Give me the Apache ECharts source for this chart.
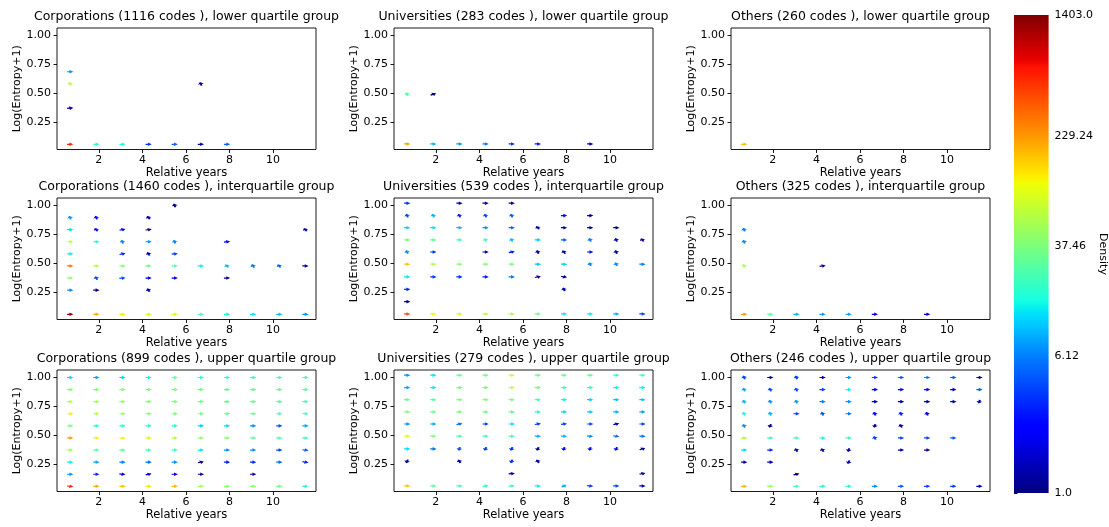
<!DOCTYPE html>
<html><head><meta charset="utf-8">
<script src="https://cdn.jsdelivr.net/npm/echarts@6/dist/echarts.min.js"></script>
<style>html,body{margin:0;padding:0;background:#fff}#c{width:1109px;height:527px}</style>
</head><body><div id="c"></div>
<script>
// ---------------- DATA ----------------
const X_YEARS = [0.68, 1.88, 3.08, 4.28, 5.48, 6.68, 7.88, 9.08, 10.28, 11.48];
const Y_LEVELS_CORP = [0.055, 0.16, 0.265, 0.37, 0.475, 0.58, 0.685, 0.79, 0.895, 1.0];
const Y_LEVELS_UNIV = [0.058, 0.165, 0.272, 0.38, 0.49, 0.596, 0.701, 0.807, 0.912, 1.02];
const Y_LEVELS_OTH = [0.055, 0.16, 0.265, 0.37, 0.475, 0.58, 0.685, 0.79, 0.895, 1.0];
const X_TICKS = [2, 4, 6, 8, 10];
const Y_TICKS = [0.25, 0.5, 0.75, 1.0];
const CB_TICK_LABELS = ['1.0', '6.12', '37.46', '229.24', '1403.0'];
const DENSITY_MIN = 1.0, DENSITY_MAX = 1403.0;
const TITLES = [
  'Corporations (1116 codes ), lower quartile group',
  'Universities (283 codes ), lower quartile group',
  'Others (260 codes ), lower quartile group',
  'Corporations (1460 codes ), interquartile group',
  'Universities (539 codes ), interquartile group',
  'Others (325 codes ), interquartile group',
  'Corporations (899 codes ), upper quartile group',
  'Universities (279 codes ), upper quartile group',
  'Others (246 codes ), upper quartile group'
];
const _ = null;
const E = [_, _, _, _, _, _, _, _, _, _];
// density matrices: rows listed from top level (index 9) down to bottom level (index 0)
const CORP_LOW = [
  E, E, E,
  [7, _, _, _, _, _, _, _, _, _],
  [65, _, _, _, _, 1.1, _, _, _, _],
  E,
  [1.2, _, _, _, _, _, _, _, _, _],
  E, E,
  [550, 18, 16, 3.7, 5, 1.3, 5, _, _, _]
];
// arrow directions (degrees) as [column, level, angle]; unlisted arrows point along +x
const CORP_LOW_ANG = [[0,5,105],[5,5,105],[0,3,10]];
const UNIV_LOW = [
  E, E, E, E, E,
  [26, 1.1, _, _, _, _, _, _, _, _],
  E, E, E,
  [215, 8.8, 7.5, 6, 3.5, 3, _, 1.4, _, _]
];
const UNIV_LOW_ANG = [[0,4,105],[1,4,30]];
const OTH_LOW = [
  E, E, E, E, E, E, E, E, E,
  [160, _, _, _, _, _, _, _, _, _]
];
const OTH_LOW_ANG = [];
const CORP_MID = [
  [_, _, _, _, 1.1, _, _, _, _, _],
  [7, 2.5, _, 1.2, _, _, _, _, _, _],
  [12, 2, 2.5, 1.1, _, _, _, _, _, 1.3],
  [65, 17, 6.5, 7, 6.5, _, 2.2, _, _, _],
  [14, _, 3, 1.2, 3.8, _, _, _, _, _],
  [285, 60, 40, 33, 27, 14, 9, 5.5, 4.5, 1.2],
  [45, 4, 4.5, 1.8, 2.5, _, 1.1, _, _, _],
  [7, 1.2, _, 1.3, _, _, _, _, _, _],
  E,
  [1200, 200, 120, 75, 75, 25, 15, 13, 10, 7]
];
const CORP_MID_ANG = [[4,9,105],[0,8,105],[1,8,105],[3,8,115],[1,7,115],[2,7,20],[3,7,10],[9,7,115],[2,6,105],[4,6,105],[6,6,10],[2,5,20],[3,5,110],[4,5,10],[6,4,115],[7,4,110],[8,4,115],[1,3,110],[2,3,10],[3,2,110]];
const UNIV_MID = [
  [3.5, _, 1.2, 1.2, 1.2, _, _, _, _, _],
  [4, 8.5, 3, 4, 4.5, _, 2.5, 1.1, _, _],
  [11, 12, 9, 7, 5, 1.3, 1.2, 1.1, 1.1, _],
  [38, 28, 24, 22, 10, 11, 5, 6, 1.3, 1.3],
  [7, 3.5, _, 1.3, 3, 1.2, 1.2, 2.5, 1.3, _],
  [160, 55, 42, 38, 38, 10, 11, 6.5, 6.5, 6],
  [13, 3.8, 3.5, 3, 6, 1.2, 1.1, _, _, _],
  [3.3, _, _, _, _, _, 1.2, _, _, _],
  [1.2, _, _, _, _, _, _, _, _, _],
  [400, 110, 85, 60, 60, 33, 13, 14, 9, 4]
];
const UNIV_MID_ANG = [[0,8,105],[1,8,105],[2,8,105],[3,8,105],[4,8,105],[5,7,115],[3,6,105],[4,6,105],[7,6,105],[8,6,105],[9,6,115],[0,5,105],[4,5,20],[5,5,105],[6,5,115],[8,5,105],[7,4,105],[8,4,105],[5,3,20],[6,3,-20],[6,2,105]];
const OTH_MID = [
  E, E,
  [6, _, _, _, _, _, _, _, _, _],
  [6.5, _, _, _, _, _, _, _, _, _],
  E,
  [60, _, _, 1.2, _, _, _, _, _, _],
  E, E, E,
  [220, 30, 9, 7.5, 8.5, 1.8, _, 1.5, _, _]
];
const OTH_MID_ANG = [[0,7,105],[0,6,105],[0,4,105],[3,4,15]];
const CORP_UP = [
  [11, 7.5, 11, 14, 33, 17, 19, 19, 22, 22],
  [42, 38, 38, 38, 38, 34, 30, 30, 30, 27],
  [65, 52, 47, 42, 42, 34, 30, 30, 27, 23],
  [115, 65, 52, 42, 38, 34, 30, 30, 23, 22],
  [38, 17, 17, 17, 16, 11, 12, 7, 4.5, 8],
  [220, 115, 105, 75, 65, 47, 42, 30, 27, 20],
  [52, 27, 27, 23, 23, 13, 7, 7, 4, 4.5],
  [14, 8.5, 6, 5.5, 7, 1.2, 3, 3.3, 5.5, 3],
  [7, 3.3, 1.8, 2, 2.2, 1.2, _, 1.3, _, _],
  [550, 200, 165, 125, 180, 52, 42, 42, 34, 17]
];
const CORP_UP_ANG = [[5,2,20],[9,2,-15],[2,1,-10],[3,1,20],[9,3,-10],[0,0,-10]];
const UNIV_UP = [
  [7, 12, 30, 33, 75, 33, 33, 30, 20, 23],
  [8, 13, 38, 38, 75, 34, 23, 20, 14, 14],
  [30, 27, 38, 42, 38, 23, 14, 11, 10, 10],
  [38, 34, 38, 34, 27, 17, 12, 11, 9, 8],
  [7, 8, 5.5, 4, 12, 3.8, 4, 4, 1.3, 4],
  [85, 38, 27, 24, 24, 8.5, 9, 7, 5.5, 5.5],
  [12, 5.5, 4, 3.5, 3.3, 1.1, 2, 2.2, 2, 1.2],
  [1.2, _, 1.2, _, 3.3, 1.2, _, _, _, _],
  [_, _, _, _, 1.2, _, _, _, _, 1.2],
  [160, 27, 24, 20, 20, 14, 8.5, 4, 4, 1.4]
];
const UNIV_UP_ANG = [[2,5,20],[5,5,15],[6,5,10],[8,5,20],[7,4,-10],[8,4,-15],[2,3,-100],[3,3,-105],[4,3,-105],[5,3,-105],[6,3,-100],[7,3,-100],[8,3,-105],[9,3,30],[0,2,-105],[2,2,110],[4,2,-105],[5,2,110],[4,1,10],[9,1,20],[3,0,15],[4,0,15],[6,0,40],[7,0,-10]];
const OTH_UP = [
  [4, 1.2, 3.8, 1.3, 7, 3.8, 4.5, 6, 4.5, 1.4],
  [8, 4, 4, 4, 14, 2, 2.5, 2.5, 1.4, 5],
  [9, 7, 7.5, 6, 7, 1.4, 1.2, 1.1, 1.3, 1.3],
  [17, 9, 4, 4.5, 5.5, 2.5, 3, 1.8, _, _],
  [6.5, 1.2, _, _, _, 1.2, 1.2, _, _, _],
  [60, 20, 23, 17, 20, 4, 4, 4, 4.5, _],
  [12, 3.3, 1.2, 1.2, 1.2, _, 1.2, 1.2, _, _],
  [1.5, 1.3, _, _, 1.2, _, _, _, _, _],
  [_, _, 1.1, _, _, _, _, _, _, _],
  [180, 47, 23, 17, 17, 7, 4.5, 4, 3.8, 1.4]
];
const OTH_UP_ANG = [[0,9,105],[2,9,105],[0,8,105],[1,8,105],[2,8,105],[0,7,105],[1,7,105],[2,7,105],[9,7,-100],[0,6,105],[1,6,105],[3,6,105],[5,6,105],[6,6,105],[7,6,105],[0,5,105],[1,5,-105],[5,5,-100],[6,5,110],[0,4,20],[5,4,105],[2,3,110],[3,3,110],[4,3,-100],[4,2,-105],[2,1,20]];

const PANELS = [
  [CORP_LOW, CORP_LOW_ANG, Y_LEVELS_CORP], [UNIV_LOW, UNIV_LOW_ANG, Y_LEVELS_UNIV], [OTH_LOW, OTH_LOW_ANG, Y_LEVELS_OTH],
  [CORP_MID, CORP_MID_ANG, Y_LEVELS_CORP], [UNIV_MID, UNIV_MID_ANG, Y_LEVELS_UNIV], [OTH_MID, OTH_MID_ANG, Y_LEVELS_OTH],
  [CORP_UP, CORP_UP_ANG, Y_LEVELS_CORP], [UNIV_UP, UNIV_UP_ANG, Y_LEVELS_UNIV], [OTH_UP, OTH_UP_ANG, Y_LEVELS_OTH]
];

// ---------------- LAYOUT / STYLE ----------------
const COL_LEFT = [57, 394, 731];
const ROW_TOP = [28, 198, 370];
const GW = 259, GH = 121.5;
const CB = {left: 1014, top: 15, width: 35, height: 478};
const CB_POS = [0, 0.287, 0.516, 0.747, 1];  // tick positions along colorbar (fraction)
const FONT = 'DejaVu Sans';
const INK = '#000';
const ARROW_SQUASH = 0.6;   // vertical compression of arrow glyphs

function interp(t, xs, ys) {
  if (t <= xs[0]) return ys[0];
  for (let k = 1; k < xs.length; k++) {
    if (t <= xs[k]) return ys[k-1] + (ys[k] - ys[k-1]) * (t - xs[k-1]) / (xs[k] - xs[k-1]);
  }
  return ys[ys.length - 1];
}
function jet(t) {
  const r = interp(t, [0, 0.35, 0.66, 0.89, 1], [0, 0, 1, 1, 0.5]);
  const g = interp(t, [0, 0.125, 0.375, 0.64, 0.91, 1], [0, 0, 1, 1, 0, 0]);
  const b = interp(t, [0, 0.11, 0.34, 0.65, 1], [0.5, 1, 1, 0, 0]);
  return 'rgb(' + Math.round(r*255) + ',' + Math.round(g*255) + ',' + Math.round(b*255) + ')';
}
const JET = [];
for (let k = 0; k <= 60; k++) JET.push(jet(k / 60));
const normT = d => Math.log(d / DENSITY_MIN) / Math.log(DENSITY_MAX / DENSITY_MIN);

const grids = [], xAxes = [], yAxes = [], series = [], titles = [];
const tickText = {fontSize: 11, color: INK, fontFamily: FONT};
const xNameText = {fontSize: 11.5, color: INK, fontFamily: FONT};
const yNameText = {fontSize: 11, color: INK, fontFamily: FONT};

function arrowItem(params, api) {
  const p = api.coord([api.value(0), api.value(1)]);
  const a = api.value(3) * Math.PI / 180;
  const c = Math.cos(a), s = -Math.sin(a);
  const pts = [[-3.0, -1.0], [-0.6, -1.0], [-0.6, -3.0], [3.3, 0], [-0.6, 3.0], [-0.6, 1.0], [-3.0, 1.0]];
  const out = pts.map(q => [p[0] + q[0]*c - q[1]*s, p[1] + (q[0]*s + q[1]*c) * ARROW_SQUASH]);
  return {type: 'polygon', shape: {points: out}, style: {fill: api.visual('color')}};
}

PANELS.forEach((panel, idx) => {
  const r = Math.floor(idx / 3), cI = idx % 3;
  const [mat, angs, ylev] = panel;
  grids.push({left: COL_LEFT[cI], top: ROW_TOP[r], width: GW, height: GH, show: true,
    borderColor: '#000', borderWidth: 0.9, backgroundColor: 'transparent', containLabel: false});
  xAxes.push({gridIndex: idx, type: 'value', min: 0.08, max: 11.97,
    axisLine: {show: false}, splitLine: {show: false},
    axisTick: {show: true, length: 3.5, inside: false, customValues: X_TICKS, lineStyle: {color: '#000', width: 0.9}},
    axisLabel: Object.assign({customValues: X_TICKS, margin: 5, formatter: v => String(v)}, tickText),
    name: 'Relative years', nameLocation: 'middle', nameGap: 18, nameTextStyle: xNameText});
  yAxes.push({gridIndex: idx, type: 'value', min: 0.01, max: 1.065,
    axisLine: {show: false}, splitLine: {show: false},
    axisTick: {show: true, length: 3.5, inside: false, customValues: Y_TICKS, lineStyle: {color: '#000', width: 0.9}},
    axisLabel: Object.assign({customValues: Y_TICKS, margin: 6, formatter: v => v.toFixed(2)}, tickText),
    name: 'Log(Entropy+1)', nameLocation: 'middle', nameRotate: 90, nameGap: 32, nameTextStyle: yNameText});
  titles.push({text: TITLES[idx], left: COL_LEFT[cI] + GW / 2, top: ROW_TOP[r] - 18, textAlign: 'center', padding: 0,
    textStyle: {fontSize: 12.5, fontWeight: 'normal', color: INK, fontFamily: FONT}});
  const angMap = {};
  angs.forEach(a => { angMap[a[0] + '_' + a[1]] = a[2]; });
  const data = [];
  mat.forEach((row, rr) => {
    const j = 9 - rr;
    row.forEach((d, i) => {
      if (d == null) return;
      data.push([X_YEARS[i], ylev[j], normT(d), angMap[i + '_' + j] || 0]);
    });
  });
  series.push({type: 'custom', xAxisIndex: idx, yAxisIndex: idx, renderItem: arrowItem,
    dimensions: ['x', 'y', 't', 'angle'], encode: {x: 0, y: 1}, data: data, silent: true, clip: false});
});

// colorbar
grids.push({left: CB.left, top: CB.top, width: CB.width, height: CB.height, show: false});
xAxes.push({gridIndex: 9, type: 'value', min: 0, max: 1, show: false});
yAxes.push({gridIndex: 9, type: 'value', min: 0, max: 1, position: 'right',
  axisLine: {show: false}, splitLine: {show: false},
  axisTick: {show: true, length: 3.5, customValues: CB_POS, lineStyle: {color: '#000', width: 0.9}},
  axisLabel: Object.assign({customValues: CB_POS, margin: 6, formatter: v => {
    let best = 0; CB_POS.forEach((p, k) => { if (Math.abs(p - v) < Math.abs(CB_POS[best] - v)) best = k; });
    return CB_TICK_LABELS[best]; }}, tickText),
  name: 'Density', nameLocation: 'middle', nameRotate: -90, nameGap: 40, nameTextStyle: yNameText});
const cbStops = [];
for (let k = 0; k <= 100; k++) {
  const t = k / 100;
  cbStops.push({offset: interp(t, [0, 0.25, 0.5, 0.75, 1], CB_POS), color: jet(t)});
}
series.push({type: 'custom', xAxisIndex: 9, yAxisIndex: 9, silent: true, data: [[0, 0, 1, 1]],
  renderItem: (params, api) => {
    const p0 = api.coord([api.value(0), api.value(1)]);
    const p1 = api.coord([api.value(2), api.value(3)]);
    return {type: 'rect', shape: {x: p0[0], y: p1[1], width: p1[0] - p0[0], height: p0[1] - p1[1]},
      style: {fill: new echarts.graphic.LinearGradient(0, 1, 0, 0, cbStops)}};
  }});

const chart = echarts.init(document.getElementById('c'), null, {renderer: 'canvas'});
chart.setOption({
  animation: false,
  backgroundColor: '#fff',
  title: titles,
  grid: grids, xAxis: xAxes, yAxis: yAxes,
  visualMap: {type: 'continuous', show: false, min: 0, max: 1, dimension: 2,
    seriesIndex: [0,1,2,3,4,5,6,7,8], inRange: {color: JET}},
  series: series
});
</script></body></html>
